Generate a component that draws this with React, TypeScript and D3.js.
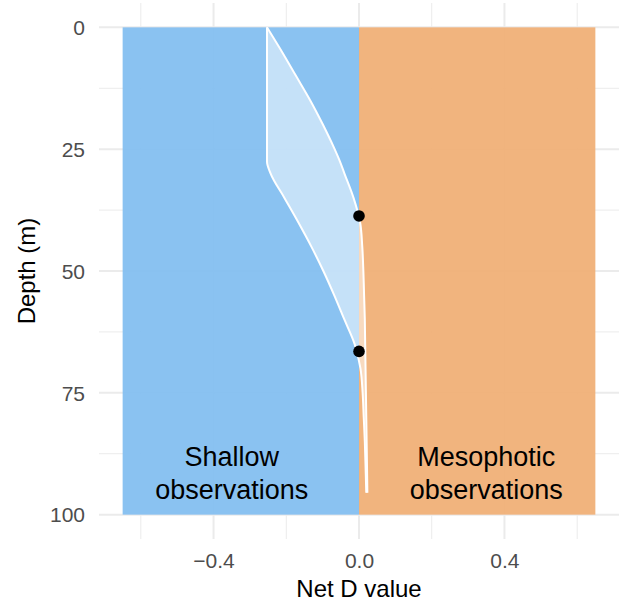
import React, { useEffect, useRef } from 'react';
import { area, axisBottom, axisLeft, curveMonotoneY, line, scaleLinear, select } from 'd3';

// ribbon of net D over depth
const depths = [0, 5, 10, 15, 20, 25, 27.6, 30, 35, 40, 45, 50, 55, 60, 65, 70, 75, 80, 85, 90, 95.5];
const lowerD = [-0.253, -0.253, -0.253, -0.253, -0.253, -0.253, -0.253, -0.243, -0.205, -0.167, -0.131, -0.098, -0.068, -0.04, -0.012, 0.004, 0.01, 0.013, 0.016, 0.018, 0.02];
const upperD = [-0.253, -0.212, -0.173, -0.134, -0.099, -0.067, -0.052, -0.04, -0.015, 0.003, 0.009, 0.012, 0.014, 0.016, 0.017, 0.018, 0.019, 0.02, 0.021, 0.022, 0.023];

// depths where the band crosses zero
const crossDepths = [38.7, 66.5];

const xTicks = [-0.4, 0, 0.4];
const xMinor = [-0.6, -0.2, 0.2, 0.6];
const yTicks = [0, 25, 50, 75, 100];
const yMinor = [12.5, 37.5, 62.5, 87.5];

const zones = [
  { from: -0.65, to: 0, fill: '#84BFF0', label: ['Shallow', 'observations'], at: -0.35 },
  { from: 0, to: 0.65, fill: '#F0B077', label: ['Mesophotic', 'observations'], at: 0.35 },
];

const W = 620, H = 601;
const panel = { left: 99, right: 619, top: 3, bottom: 539 };

export default function App() {
  const xAxisRef = useRef<SVGGElement>(null);
  const yAxisRef = useRef<SVGGElement>(null);

  const x = scaleLinear().domain([-0.715, 0.715]).range([panel.left, panel.right]);
  const y = scaleLinear().domain([-5, 105]).range([panel.top, panel.bottom]);

  const rows = depths.map((d, i) => ({ d, lo: lowerD[i], hi: upperD[i] }));

  const band = area<any>()
    .y((r) => y(r.d))
    .x0((r) => x(r.lo))
    .x1((r) => x(r.hi))
    .curve(curveMonotoneY);
  const loLine = line<any>().y((r) => y(r.d)).x((r) => x(r.lo)).curve(curveMonotoneY);
  const hiLine = line<any>().y((r) => y(r.d)).x((r) => x(r.hi)).curve(curveMonotoneY);

  useEffect(() => {
    const fmt = (v: any) => (v === 0 ? '0.0' : String(v).replace('-', '\u2212'));
    const gx = select(xAxisRef.current);
    gx.call(axisBottom(x).tickValues(xTicks).tickSize(0).tickPadding(0).tickFormat(fmt));
    gx.select('.domain').remove();
    gx.selectAll('text')
      .attr('dy', null)
      .attr('y', 29)
      .attr('fill', '#4D4D4D')
      .style('font-size', '21px')
      .style('font-family', '"Liberation Sans", Arial, sans-serif');

    const gy = select(yAxisRef.current);
    gy.call(axisLeft(y).tickValues(yTicks).tickSize(0).tickPadding(14));
    gy.select('.domain').remove();
    gy.selectAll('text')
      .attr('dy', '0.35em')
      .attr('fill', '#4D4D4D')
      .style('font-size', '21px')
      .style('font-family', '"Liberation Sans", Arial, sans-serif');
  }, []);

  const font = '"Liberation Sans", Arial, sans-serif';

  return (
    <svg width={W} height={H} style={{ position: 'absolute', left: 0, top: 0, background: '#fff' }}>
      {/* grid */}
      <g stroke="#EBEBEB">
        {xMinor.map((v) => (
          <line key={'xm' + v} x1={x(v)} x2={x(v)} y1={panel.top} y2={panel.bottom} strokeWidth={1} />
        ))}
        {yMinor.map((v) => (
          <line key={'ym' + v} y1={y(v)} y2={y(v)} x1={panel.left} x2={panel.right} strokeWidth={1} />
        ))}
        {xTicks.map((v) => (
          <line key={'x' + v} x1={x(v)} x2={x(v)} y1={panel.top} y2={panel.bottom} strokeWidth={2} />
        ))}
        {yTicks.map((v) => (
          <line key={'y' + v} y1={y(v)} y2={y(v)} x1={panel.left} x2={panel.right} strokeWidth={2} />
        ))}
      </g>

      {zones.map((z) => (
        <rect
          key={z.at}
          x={x(z.from)}
          width={x(z.to) - x(z.from)}
          y={y(0)}
          height={y(100) - y(0)}
          fill={z.fill}
          fillOpacity={0.95}
        />
      ))}

      <path d={band(rows) as string} fill="#fff" fillOpacity={0.5} />
      <path d={loLine(rows) as string} fill="none" stroke="#fff" strokeWidth={2} />
      <path d={hiLine(rows) as string} fill="none" stroke="#fff" strokeWidth={2} />

      {crossDepths.map((d) => (
        <circle key={d} cx={x(0)} cy={y(d)} r={5.8} fill="#000" />
      ))}

      {zones.map((z) => (
        <text key={'t' + z.at} x={x(z.at)} textAnchor="middle" fontFamily={font} fontSize={27} fill="#000">
          <tspan x={x(z.at)} y={466}>{z.label[0]}</tspan>
          <tspan x={x(z.at)} y={499}>{z.label[1]}</tspan>
        </text>
      ))}

      <g ref={xAxisRef} transform={`translate(0, ${panel.bottom})`} />
      <g ref={yAxisRef} transform={`translate(${panel.left}, 0)`} />

      <text x={x(0)} y={597} textAnchor="middle" fontFamily={font} fontSize={24} fill="#000">
        Net D value
      </text>
      <text
        transform={`translate(35, ${y(50)}) rotate(-90)`}
        textAnchor="middle"
        fontFamily={font}
        fontSize={24}
        fill="#000"
      >
        Depth (m)
      </text>
    </svg>
  );
}
